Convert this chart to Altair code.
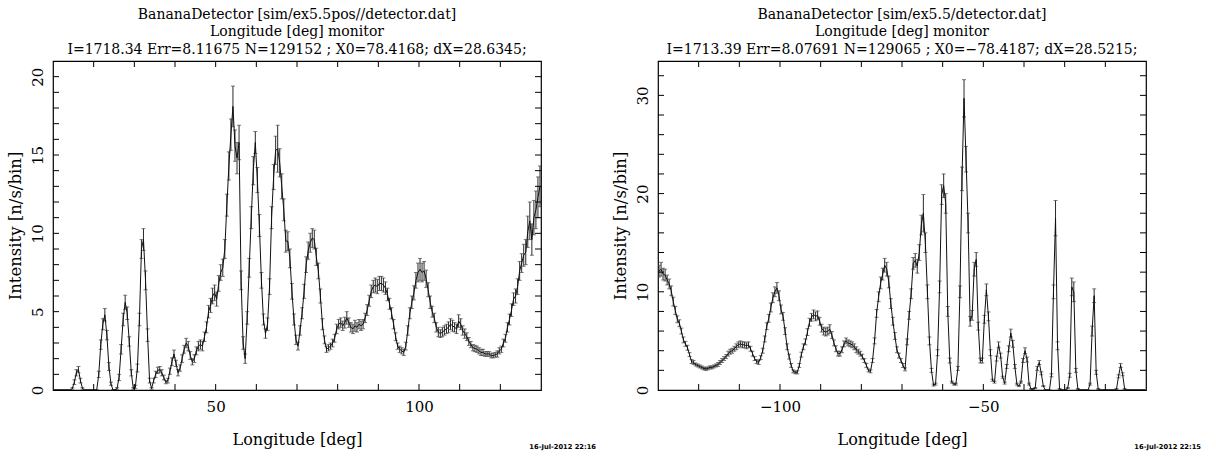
import altair as alt
import pandas as pd
import numpy as np

# ---------------- data ----------------
left_x = np.arange(10.25, 130.0, 0.5)
left_y = [
    0, 0, 0, 0, 0, 0, 0, 0, 0, 0.1,
    0.5, 1.1, 1.3, 0.6, 0.1, 0, 0, 0, 0, 0,
    0, 0, 1.0, 2.9, 4.2, 4.8, 3.5, 1.5, 0.4, 0,
    0, 0.1, 0.8, 2.6, 4.5, 5.6, 4.9, 3.1, 1.1, 0.1,
    0.2, 1.4, 4.5, 9.0, 9.6, 7.0, 3.5, 0.6, 0.1, 0.6,
    1.0, 1.25, 1.3, 1.1, 0.8, 0.5, 0.6, 1.2, 1.8, 2.3,
    1.7, 1.1, 1.4, 2.0, 2.6, 3.0, 2.8, 2.2, 1.8, 2.0,
    2.5, 2.8, 2.9, 2.8, 3.4, 4.0, 5.0, 5.4, 6.0, 6.2,
    5.8, 6.8, 7.5, 7.8, 9.0, 11.8, 14.3, 16.3, 18.1, 15.6,
    14.8, 15.8, 7.0, 3.0, 2.0, 4.6, 7.8, 11.0, 14.0, 15.8,
    13.4, 10.5, 7.0, 4.5, 3.6, 4.2, 6.6, 11.0, 13.6, 15.3,
    15.4, 14.5, 13.0, 11.5, 9.5, 9.5, 8.4, 6.3, 4.5, 3.2,
    2.8, 3.8, 4.9, 6.3, 8.0, 8.9, 9.4, 9.7, 9.6, 8.5,
    7.6, 6.0, 4.2, 3.2, 2.6, 2.7, 2.8, 3.0, 3.3, 3.9,
    4.2, 4.3, 4.1, 4.3, 4.6, 4.3, 4.0, 3.9, 4.1, 4.0,
    4.2, 4.1, 4.2, 4.6, 5.1, 5.7, 6.3, 6.6, 6.7, 6.6,
    6.8, 6.8, 6.7, 6.5, 6.1, 5.5, 4.9, 4.2, 3.4, 2.8,
    2.6, 2.5, 2.4, 2.8, 3.8, 4.9, 5.6, 6.2, 7.0, 7.5,
    7.7, 7.5, 7.6, 7.1, 6.4, 5.6, 5.0, 4.6, 4.0, 3.7,
    3.6, 3.7, 3.8, 3.9, 4.0, 4.2, 4.1, 4.0, 3.9, 4.4,
    4.2, 3.8, 3.6, 3.4, 3.1, 2.9, 2.7, 2.65, 2.6, 2.5,
    2.4, 2.4, 2.3, 2.3, 2.3, 2.2, 2.2, 2.25, 2.3, 2.5,
    2.6, 3.0, 3.3, 4.0, 4.5, 5.1, 5.8, 6.0, 6.6, 7.6,
    8.1, 8.6, 8.8, 10.1, 10.8, 9.6, 11.0, 11.5, 12.3, 13.0,
]
left_err = [
    0, 0, 0, 0, 0, 0, 0, 0, 0, 0.05,
    0.15, 0.2, 0.2, 0.15, 0.05, 0, 0, 0, 0, 0,
    0, 0, 0.2, 0.3, 0.35, 0.4, 0.3, 0.25, 0.1, 0,
    0, 0.05, 0.2, 0.3, 0.4, 0.45, 0.4, 0.3, 0.2, 0.05,
    0.1, 0.25, 0.4, 0.6, 0.7, 0.6, 0.4, 0.15, 0.05, 0.15,
    0.2, 0.2, 0.2, 0.2, 0.15, 0.1, 0.15, 0.2, 0.25, 0.25,
    0.2, 0.2, 0.2, 0.25, 0.25, 0.3, 0.3, 0.25, 0.2, 0.25,
    0.25, 0.3, 0.3, 0.3, 0.3, 0.35, 0.4, 0.45, 0.5, 0.5,
    0.45, 0.5, 0.5, 0.55, 0.6, 0.7, 0.9, 1.0, 1.3, 1.0,
    1.0, 1.1, 0.6, 0.4, 0.3, 0.4, 0.6, 0.7, 0.9, 0.7,
    0.8, 0.7, 0.5, 0.35, 0.3, 0.4, 0.5, 0.7, 0.8, 0.9,
    1.5, 0.9, 0.8, 0.7, 0.7, 0.6, 0.6, 0.5, 0.35, 0.3,
    0.25, 0.3, 0.35, 0.45, 0.5, 0.55, 0.6, 0.6, 0.6, 0.55,
    0.5, 0.45, 0.35, 0.25, 0.2, 0.2, 0.2, 0.25, 0.25, 0.3,
    0.3, 0.3, 0.3, 0.35, 0.4, 0.3, 0.3, 0.3, 0.35, 0.3,
    0.3, 0.3, 0.3, 0.3, 0.35, 0.35, 0.4, 0.4, 0.45, 0.45,
    0.45, 0.45, 0.45, 0.4, 0.4, 0.35, 0.35, 0.3, 0.25, 0.2,
    0.2, 0.2, 0.2, 0.25, 0.3, 0.35, 0.4, 0.45, 0.5, 0.6,
    0.7, 0.6, 0.6, 0.55, 0.45, 0.4, 0.35, 0.3, 0.3, 0.3,
    0.25, 0.3, 0.3, 0.3, 0.35, 0.35, 0.35, 0.3, 0.3, 0.4,
    0.35, 0.3, 0.3, 0.25, 0.25, 0.2, 0.2, 0.2, 0.2, 0.2,
    0.2, 0.2, 0.15, 0.15, 0.15, 0.15, 0.15, 0.15, 0.2, 0.2,
    0.2, 0.25, 0.25, 0.3, 0.35, 0.4, 0.4, 0.45, 0.5, 0.6,
    0.6, 0.7, 0.8, 1.0, 1.2, 1.0, 1.1, 1.2, 1.3, 1.3,
]

right_x = np.arange(-129.75, -10.0, 0.5)
right_y = [
    12.1, 12.3, 11.8, 11.7, 11.2, 10.8, 10.1, 9.0, 8.1, 7.2,
    6.8, 6.0, 5.1, 4.7, 4.3, 3.6, 2.9, 2.8, 2.6, 2.5,
    2.4, 2.3, 2.2, 2.15, 2.2, 2.3, 2.3, 2.4, 2.5, 2.6,
    2.8, 3.0, 3.2, 3.4, 3.7, 3.9, 4.0, 4.2, 4.4, 4.6,
    4.7, 4.6, 4.6, 4.5, 4.6, 4.2, 3.7, 3.2, 2.9, 2.8,
    3.3, 4.0, 5.2, 6.5, 7.3, 8.4, 9.4, 10.0, 10.4, 9.6,
    8.2, 7.5, 6.0, 4.4, 3.4, 2.5, 1.9, 1.8, 1.8, 2.5,
    3.6, 4.4, 4.9, 5.9, 6.9, 7.4, 7.7, 7.5, 7.6, 7.0,
    6.3, 6.0, 5.9, 6.0, 6.2, 5.6, 4.8, 4.2, 3.7, 3.7,
    4.1, 4.7, 5.0, 4.8, 4.7, 4.6, 4.4, 4.1, 3.9, 3.7,
    3.4, 3.0, 2.5, 2.0, 1.9, 3.0, 5.0, 7.8, 9.5, 10.9,
    11.8, 12.7, 12.3, 11.0, 8.8, 7.0, 5.5, 4.1, 3.5, 3.0,
    2.5, 2.1, 4.9, 7.6, 9.8, 12.9, 13.2, 12.6, 14.0, 16.8,
    18.0, 15.0, 10.0, 5.0, 2.0, 0.5, 0.6, 3.8, 10.5, 19.9,
    20.8, 19.0, 8.0, 3.0, 0.8, 0.6, 0.6, 2.2, 10.0, 21.5,
    29.7, 23.5, 17.0, 7.0, 7.6, 12.3, 13.3, 6.5, 3.0, 3.0,
    7.2, 10.2, 7.5, 3.8, 1.0, 0.8, 3.2, 4.6, 3.5, 1.3,
    0.7, 2.4, 4.2, 5.8, 4.7, 2.4, 0.6, 0.4, 0.8, 3.0,
    4.0, 3.1, 0.6, 0.1, 0.1, 0.2, 2.2, 2.8, 1.7, 0.4,
    0, 0, 0, 1.5, 10.0, 17.5, 4.5, 0.1, 0, 0,
    0, 0.2, 1.5, 10.5, 10.0, 2.0, 0.1, 0, 0, 0,
    0, 0, 0.6, 6.0, 9.6, 1.8, 0.1, 0, 0, 0,
    0, 0, 0, 0, 0, 0.1, 1.4, 2.5, 1.6, 0.1,
    0, 0, 0, 0, 0, 0, 0, 0, 0, 0,
]
right_err = [
    0.6, 0.7, 0.6, 0.6, 0.5, 0.5, 0.5, 0.45, 0.4, 0.35,
    0.35, 0.3, 0.3, 0.25, 0.25, 0.2, 0.2, 0.2, 0.15, 0.15,
    0.15, 0.15, 0.15, 0.15, 0.15, 0.15, 0.15, 0.15, 0.15, 0.2,
    0.2, 0.2, 0.2, 0.2, 0.25, 0.25, 0.25, 0.25, 0.3, 0.3,
    0.3, 0.3, 0.3, 0.3, 0.3, 0.25, 0.25, 0.2, 0.2, 0.2,
    0.2, 0.25, 0.3, 0.35, 0.4, 0.45, 0.5, 0.5, 0.55, 0.5,
    0.45, 0.4, 0.35, 0.3, 0.25, 0.2, 0.15, 0.15, 0.15, 0.2,
    0.25, 0.3, 0.3, 0.35, 0.4, 0.4, 0.45, 0.45, 0.45, 0.4,
    0.4, 0.4, 0.4, 0.4, 0.45, 0.35, 0.3, 0.3, 0.25, 0.25,
    0.3, 0.3, 0.3, 0.3, 0.3, 0.3, 0.3, 0.3, 0.25, 0.25,
    0.25, 0.2, 0.2, 0.15, 0.15, 0.2, 0.3, 0.4, 0.5, 0.6,
    0.6, 0.7, 0.7, 0.6, 0.5, 0.4, 0.35, 0.3, 0.25, 0.2,
    0.2, 0.15, 0.3, 0.4, 0.5, 0.6, 0.7, 0.7, 0.8, 1.0,
    1.9, 1.0, 0.7, 0.4, 0.2, 0.1, 0.1, 0.3, 0.6, 1.0,
    1.2, 1.0, 0.5, 0.25, 0.1, 0.1, 0.1, 0.2, 0.6, 1.2,
    1.9, 1.3, 1.0, 0.5, 0.5, 0.7, 0.7, 0.4, 0.25, 0.25,
    0.4, 0.6, 0.45, 0.3, 0.1, 0.1, 0.25, 0.3, 0.25, 0.1,
    0.1, 0.2, 0.3, 0.4, 0.35, 0.2, 0.1, 0.05, 0.1, 0.2,
    0.3, 0.25, 0.1, 0.05, 0.05, 0.05, 0.2, 0.2, 0.15, 0.05,
    0, 0, 0, 0.15, 0.7, 1.8, 0.4, 0.05, 0, 0,
    0, 0.05, 0.2, 0.9, 1.0, 0.2, 0.05, 0, 0, 0,
    0, 0, 0.1, 0.5, 0.7, 0.2, 0.05, 0, 0, 0,
    0, 0, 0, 0, 0, 0.05, 0.15, 0.2, 0.15, 0.05,
    0, 0, 0, 0, 0, 0, 0, 0, 0, 0,
]

left_title = ["BananaDetector [sim/ex5.5pos//detector.dat]",
              "Longitude [deg] monitor",
              "I=1718.34 Err=8.11675 N=129152 ; X0=78.4168; dX=28.6345;"]
right_title = ["BananaDetector [sim/ex5.5/detector.dat]",
               "Longitude [deg] monitor",
               "I=1713.39 Err=8.07691 N=129065 ; X0=\u221278.4187; dX=28.5215;"]
left_date = "16-Jul-2012 22:16"
right_date = "16-Jul-2012 22:15"

left_xdomain = [10, 130]
right_xdomain = [-130, -10]
left_ydomain = [0, 21]
right_ydomain = [0, 33.5]
left_xlabels = [50, 100]
right_xlabels = [-100, -50]
left_ylabels = [0, 5, 10, 15, 20]
right_ylabels = [0, 10, 20, 30]
left_xticks = list(range(20, 130, 10))
right_xticks = list(range(-120, -10, 10))
left_yticks = list(range(1, 21, 1))
right_yticks = list(range(2, 34, 2))

W, H = 488, 329
SERIF = "DejaVu Serif"


def panel(x, y, err, xdom, ydom, xlabels, ylabels, xticks, yticks, title, date):
    df = pd.DataFrame({"x": x, "y": y, "err": err})
    df["lo"] = (df["y"] - df["err"]).clip(lower=0)
    df["hi"] = df["y"] + df["err"]
    xs = alt.Scale(domain=xdom, nice=False, zero=False)
    ys = alt.Scale(domain=ydom, nice=False, zero=False)
    base = alt.Chart(df)
    xaxis = alt.Axis(values=xlabels, ticks=False, grid=False, domain=False,
                     labelFont=SERIF, labelFontSize=15, labelColor="black",
                     labelPadding=9, title="Longitude [deg]", titleFont=SERIF,
                     titleFontSize=16, titleFontWeight="normal", titleColor="black",
                     titlePadding=17, format="d")
    yaxis = alt.Axis(values=ylabels, ticks=False, grid=False, domain=False,
                     labelFont=SERIF, labelFontSize=15, labelColor="black",
                     labelAngle=-90, labelAlign="center", labelBaseline="bottom",
                     labelPadding=8, title="Intensity [n/s/bin]", titleFont=SERIF,
                     titleFontSize=16.5, titleFontWeight="normal", titleColor="black",
                     titlePadding=7, format="d")
    line = base.mark_line(color="#111111", strokeWidth=1, clip=True).encode(
        x=alt.X("x:Q", scale=xs, axis=xaxis),
        y=alt.Y("y:Q", scale=ys, axis=yaxis),
    )
    bars = base.mark_rule(color="#2a2a2a", strokeWidth=1, clip=True).encode(
        x="x:Q", y="lo:Q", y2="hi:Q")
    cap_lo = base.mark_tick(orient="horizontal", size=4, thickness=1,
                            color="#444444", clip=True).encode(x="x:Q", y="lo:Q")
    cap_hi = base.mark_tick(orient="horizontal", size=4, thickness=1,
                            color="#444444", clip=True).encode(x="x:Q", y="hi:Q")

    xt = alt.Chart(pd.DataFrame({"t": xticks}))
    yt = alt.Chart(pd.DataFrame({"t": yticks}))
    bt = xt.mark_rule(color="black", strokeWidth=1).encode(
        x=alt.X("t:Q"), y=alt.value(H), y2=alt.value(H - 6))
    tt = xt.mark_rule(color="black", strokeWidth=1).encode(
        x=alt.X("t:Q"), y=alt.value(0), y2=alt.value(6))
    lt = yt.mark_rule(color="black", strokeWidth=1).encode(
        y=alt.Y("t:Q"), x=alt.value(0), x2=alt.value(6))
    rt = yt.mark_rule(color="black", strokeWidth=1).encode(
        y=alt.Y("t:Q"), x=alt.value(W), x2=alt.value(W - 6))
    dt = alt.Chart(pd.DataFrame({"d": [date]})).mark_text(
        align="right", baseline="middle", font="DejaVu Sans", fontSize=6.7,
        fontWeight="bold", color="black").encode(
        x=alt.value(W + 55), y=alt.value(H + 57), text="d:N")

    return alt.layer(bars, cap_lo, cap_hi, line, bt, tt, lt, rt, dt).properties(
        width=W, height=H,
        title=alt.TitleParams(text=title, font=SERIF, fontSize=14,
                              fontWeight="normal", color="black", anchor="middle",
                              lineHeight=17.5, offset=4),
    )


left = panel(left_x, left_y, left_err, left_xdomain, left_ydomain, left_xlabels,
             left_ylabels, left_xticks, left_yticks, left_title, left_date)
right = panel(right_x, right_y, right_err, right_xdomain, right_ydomain, right_xlabels,
              right_ylabels, right_xticks, right_yticks, right_title, right_date)

chart = alt.hconcat(left, right, spacing=14).configure_view(
    stroke="black", strokeWidth=1.2
).properties(
    padding={"left": 6, "top": 6, "right": 0, "bottom": 0},
    background="white",
)

chart.save("out.html", embed_options={"renderer": "svg", "actions": False})
